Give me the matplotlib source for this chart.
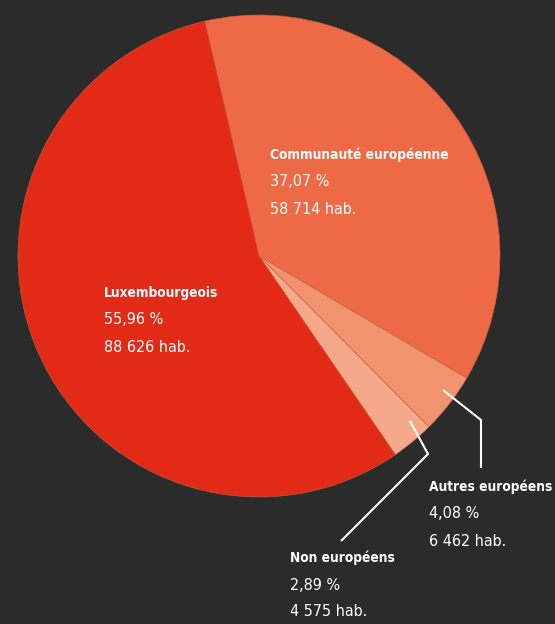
import matplotlib
matplotlib.use("Agg")
import matplotlib.pyplot as plt

categories = ["Communauté européenne", "Autres européens", "Non européens", "Luxembourgeois"]
percents = [37.07, 4.08, 2.89, 55.96]
pct_labels = ["37,07 %", "4,08 %", "2,89 %", "55,96 %"]
hab_labels = ["58 714 hab.", "6 462 hab.", "4 575 hab.", "88 626 hab."]
colors = ["#ee6a47", "#f29370", "#f5a88a", "#e32a16"]

W, H = 555, 624
fig = plt.figure(figsize=(W / 100, H / 100), dpi=100)
fig.patch.set_facecolor("#2b2b2b")
ax = fig.add_axes([0, 0, 1, 1])
ax.set_facecolor("#2b2b2b")

cx, cy, r = 259, H - 256, 241
wedges, _ = ax.pie(percents, colors=colors, startangle=103, counterclock=False,
                   center=(cx, cy), radius=r, frame=True,
                   wedgeprops=dict(edgecolor="#c8603f", linewidth=0.4))
ax.set_xlim(0, W)
ax.set_ylim(0, H)
ax.set_aspect("equal")
ax.axis("off")

def P(x, y):
    return x, H - y

lx, ly = zip(P(443, 390), P(481, 420), P(481, 468))
ax.plot(lx, ly, color="white", lw=1.5, solid_capstyle="butt")
lx, ly = zip(P(410, 421), P(428, 454), P(341, 541))
ax.plot(lx, ly, color="white", lw=1.5, solid_capstyle="butt")

label_pos = {
    "Communauté européenne": (270, 155),
    "Autres européens": (429, 487),
    "Non européens": (290, 558),
    "Luxembourgeois": (104, 293),
}
fam = "DejaVu Sans"
fs_bold = 9.8
fs = 11.5
for cat, pl, hl in zip(categories, pct_labels, hab_labels):
    x, y = label_pos[cat]
    ax.text(x, H - y, cat, color="white", fontsize=fs_bold, family=fam, fontstretch="condensed",
            fontweight="bold", ha="left", va="center")
    ax.text(x, H - y - 27, pl, color="white", fontsize=fs, family=fam, fontstretch="condensed",
            ha="left", va="center")
    ax.text(x, H - y - 54, hl, color="white", fontsize=fs, family=fam, fontstretch="condensed",
            ha="left", va="center")

fig.savefig("out.png", dpi=100, facecolor=fig.get_facecolor())
